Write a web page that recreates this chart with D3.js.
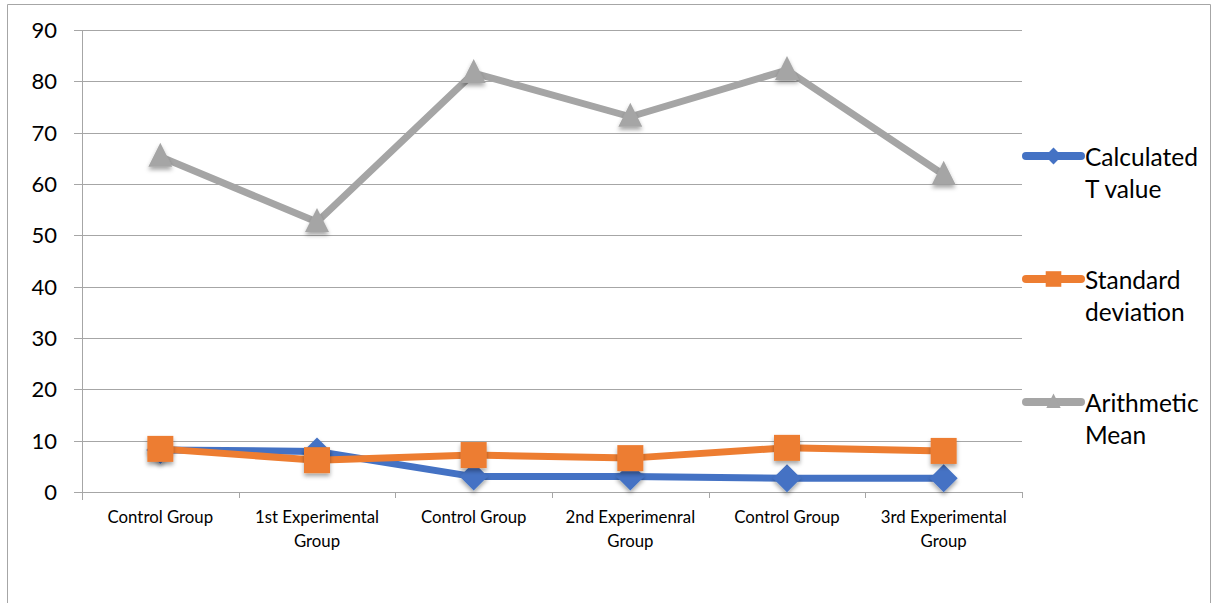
<!DOCTYPE html>
<html>
<head>
<meta charset="utf-8">
<script src="https://cdn.jsdelivr.net/npm/d3@7"></script>
<style>
  html, body { margin: 0; padding: 0; background: #fff; }
  svg { display: block; font-family: Lato, "Open Sans", sans-serif; }
</style>
</head>
<body>
<div id="chart"></div>
<script>
// Group comparison: T value, SD and mean per group

const categories = [
    ['Control Group'],
    ['1st Experimental', 'Group'],
    ['Control Group'],
    ['2nd Experimenral', 'Group'],
    ['Control Group'],
    ['3rd Experimental', 'Group']
];
const tValues = [8.2, 7.9, 3.0, 3.0, 2.7, 2.7];
const stdDevs = [8.4, 6.2, 7.2, 6.6, 8.6, 8.0];
const means = [65.3, 52.6, 81.6, 73.1, 82.2, 61.8];
const yTicks = [0, 10, 20, 30, 40, 50, 60, 70, 80, 90];

const series = [
    { name: ['Calculated', 'T value'], values: tValues, color: '#4472C4', marker: 'diamond' },
    { name: ['Standard', 'deviation'], values: stdDevs, color: '#ED7D31', marker: 'square' },
    { name: ['Arithmetic', 'Mean'], values: means, color: '#A5A5A5', marker: 'triangle' }
];

const W = 1213, H = 603;
const margin = { top: 30, right: 191, bottom: 111, left: 82 };
const innerW = W - margin.left - margin.right;
const innerH = H - margin.top - margin.bottom;

const svg = d3.select('#chart').append('svg')
    .attr('width', W)
    .attr('height', H);

// drop shadow like the office chart markers
const defs = svg.append('defs');
const shadow = defs.append('filter').attr('id', 'shadow')
    .attr('x', '-50%').attr('y', '-50%').attr('width', '200%').attr('height', '200%');
shadow.append('feDropShadow')
    .attr('dx', 0).attr('dy', 3).attr('stdDeviation', 2)
    .attr('flood-color', '#000').attr('flood-opacity', 0.35);

// outer frame
svg.append('path')
    .attr('d', `M7.5,${H} V4.5 H1210.5 V${H}`)
    .attr('fill', 'none')
    .attr('stroke', '#a6a6a6')
    .attr('stroke-width', 1);

const g = svg.append('g')
    .attr('transform', `translate(${margin.left},${margin.top})`);

const x = d3.scaleBand()
    .domain(d3.range(categories.length))
    .range([0, innerW]);

const y = d3.scaleLinear()
    .domain([0, 90])
    .range([innerH, 0]);

// gridlines
g.append('g')
    .selectAll('line')
    .data(yTicks)
    .join('line')
    .attr('x1', -8)
    .attr('x2', innerW)
    .attr('y1', d => Math.round(y(d)) + 0.5)
    .attr('y2', d => Math.round(y(d)) + 0.5)
    .attr('stroke', '#a6a6a6')
    .attr('stroke-width', 1);

// y labels
g.append('g')
    .selectAll('text')
    .data(yTicks)
    .join('text')
    .attr('x', -25)
    .attr('y', d => y(d))
    .attr('dy', '0.36em')
    .attr('text-anchor', 'end')
    .attr('font-size', 22)
    .attr('fill', '#000')
    .text(d => d);

// y axis line
g.append('line')
    .attr('x1', 0.5).attr('x2', 0.5)
    .attr('y1', 0).attr('y2', innerH + 8)
    .attr('stroke', '#a6a6a6');

// x axis ticks at band boundaries
const bounds = d3.range(categories.length + 1).map(i => i === categories.length ? innerW : x(i));
g.append('g')
    .selectAll('line')
    .data(bounds)
    .join('line')
    .attr('x1', d => Math.round(d) + 0.5)
    .attr('x2', d => Math.round(d) + 0.5)
    .attr('y1', innerH)
    .attr('y2', innerH + 6)
    .attr('stroke', '#a6a6a6');

// x labels
const xl = g.append('g')
    .selectAll('text')
    .data(categories)
    .join('text')
    .attr('text-anchor', 'middle')
    .attr('font-size', 16.8)
    .attr('fill', '#000')
    .attr('transform', (d, i) => `translate(${x(i) + x.bandwidth() / 2},${innerH + 31})`);
xl.selectAll('tspan')
    .data(d => d)
    .join('tspan')
    .attr('x', 0)
    .attr('y', (d, i) => i * 23.5)
    .text(d => d);

function markerPath(type) {
    if (type === 'diamond') return 'M0,-14 L14,0 L0,14 L-14,0 Z';
    if (type === 'square') return 'M-13,-13 H13 V13 H-13 Z';
    return 'M0,-14 L12,10 L-12,10 Z';
}

const line = d3.line()
    .x((d, i) => x(i) + x.bandwidth() / 2)
    .y(d => y(d));

series.forEach(s => {
    const sg = g.append('g');
    sg.append('path')
        .datum(s.values)
        .attr('d', line)
        .attr('fill', 'none')
        .attr('stroke', s.color)
        .attr('stroke-width', 7)
        .attr('stroke-linejoin', 'round')
        .attr('stroke-linecap', 'round');
    sg.selectAll('path.mk')
        .data(s.values)
        .join('path')
        .attr('class', 'mk')
        .attr('d', markerPath(s.marker))
        .attr('transform', (d, i) => `translate(${x(i) + x.bandwidth() / 2},${y(d)})`)
        .attr('fill', s.color)
        .attr('filter', 'url(#shadow)');
});

// legend
const legend = svg.append('g')
    .attr('transform', 'translate(1026,0)');
const legendY = [156, 279, 402];
series.forEach((s, i) => {
    const lg = legend.append('g').attr('transform', `translate(0,${legendY[i]})`);
    lg.append('line')
        .attr('x1', 0).attr('x2', 55)
        .attr('stroke', s.color)
        .attr('stroke-width', 8)
        .attr('stroke-linecap', 'round');
    lg.append('path')
        .attr('d', markerPath(s.marker))
        .attr('transform', 'translate(27.5,0) scale(0.6)')
        .attr('fill', s.color);
    lg.append('text')
        .attr('x', 59)
        .attr('font-size', 24.5)
        .attr('fill', '#000')
        .selectAll('tspan')
        .data(s.name)
        .join('tspan')
        .attr('x', 59)
        .attr('y', (d, j) => 10 + j * 32)
        .text(d => d);
});
</script>
</body>
</html>
